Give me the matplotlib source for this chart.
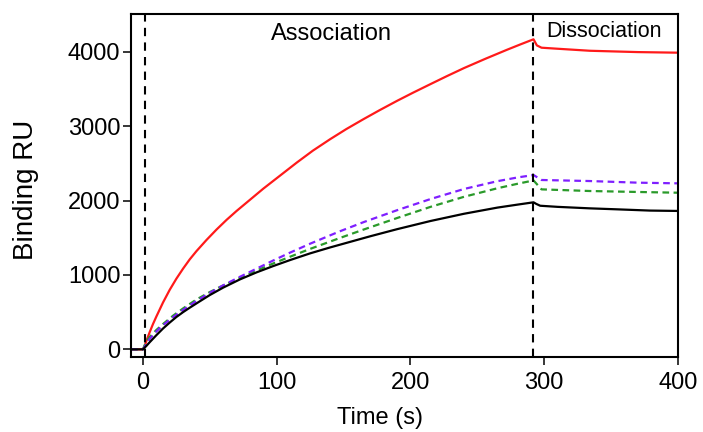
import matplotlib
matplotlib.use("Agg")
import matplotlib.pyplot as plt

plt.rcParams['font.family'] = ['Liberation Sans', 'DejaVu Sans']

# Time points (s) and responses (RU)
t_red = [-9, 0, 1, 2.5, 5, 7.5, 10, 15, 20, 25, 30, 35, 40, 47.5, 55, 62.5, 70, 80, 90,
         100, 115, 127, 140, 152, 165, 177, 190, 202, 215, 227, 240, 256, 272, 282, 292,
         294.5, 298, 310, 334, 370, 400]
y_red = [0, 0, 30, 110, 230, 340, 440, 630, 800, 950, 1085, 1210, 1320, 1470, 1610, 1740,
         1860, 2010, 2160, 2300, 2510, 2670, 2825, 2960, 3095, 3215, 3340, 3450, 3565,
         3670, 3780, 3905, 4025, 4097, 4167, 4085, 4054, 4040, 4013, 3995, 3987]

t_black = [-9, 0, 2.5, 5, 10, 15, 20, 25, 30, 35, 42, 50, 60, 72.5, 85, 97.5, 110, 125,
           140, 155, 170, 190, 215, 240, 265, 280, 292, 294, 297, 310, 334, 354, 379, 400]
y_black = [0, 0, 45, 95, 190, 280, 360, 435, 500, 560, 640, 730, 830, 940, 1035, 1120, 1200,
           1290, 1370, 1445, 1520, 1615, 1725, 1822, 1905, 1945, 1976, 1955, 1930, 1915,
           1895, 1882, 1865, 1860]

t_green = [-9, 0, 2.5, 5, 10, 15, 22.7, 30, 40, 50, 60, 72.5, 85, 97.5, 110, 125, 147, 165,
           190, 215, 240, 265, 280, 292, 298, 334, 370, 400]
y_green = [0, 0, 110, 165, 260, 340, 455, 550, 670, 770, 860, 960, 1060, 1155, 1245, 1350,
           1495, 1610, 1765, 1915, 2050, 2165, 2225, 2270, 2150, 2128, 2115, 2105]

t_purple = [-9, 0, 5, 10, 15, 22.7, 30, 40, 50, 60, 72.5, 85, 97.5, 110, 125, 147, 165,
            190, 215, 240, 265, 280, 292, 298, 334, 370, 400]
y_purple = [0, 0, 140, 240, 325, 435, 530, 650, 760, 860, 975, 1085, 1195, 1300, 1420, 1585,
            1710, 1870, 2020, 2155, 2260, 2310, 2343, 2276, 2262, 2240, 2231]

phase_lines = [1.5, 291.5]
phase_labels = ["Association", "Dissociation"]
phase_label_x = [141, 345]
phase_label_y = [4238, 4278]
phase_label_size = [17, 15.5]

x_ticks = [0, 100, 200, 300, 400]
y_ticks = [0, 1000, 2000, 3000, 4000]

fig = plt.figure(figsize=(7.03, 4.32), dpi=100)
ax = fig.add_axes([0.187, 0.1736, 0.9644 - 0.187, 0.9676 - 0.1736])

ax.plot(t_red, y_red, color='#ff1a1a', lw=1.6)
ax.plot(t_green, y_green, color='#2a9a2a', lw=1.6, ls=(0, (3, 2)))
ax.plot(t_purple, y_purple, color='#7f1fff', lw=1.6, ls=(0, (3, 2)))
ax.plot(t_black, y_black, color='black', lw=1.6)

for xv in phase_lines:
    ax.axvline(xv, color='black', lw=1.5, ls=(0, (4, 3)))

for lab, lx, ly, fs in zip(phase_labels, phase_label_x, phase_label_y, phase_label_size):
    ax.text(lx, ly, lab, ha='center', va='center', fontsize=fs)

ax.set_xlim(-8.6, 400)
ax.set_ylim(-103, 4507)
ax.set_xticks(x_ticks)
ax.set_yticks(y_ticks)
ax.tick_params(direction='out', length=6, width=1.1, labelsize=17)
ax.tick_params(axis='x', pad=4.5)
ax.tick_params(axis='y', pad=2)
for s in ax.spines.values():
    s.set_linewidth(1.5)
ax.set_xlabel("Time (s)", fontsize=17, va='center')
ax.xaxis.set_label_coords(0.455, -0.178)
ax.set_ylabel("Binding RU", fontsize=20, va='center')
ax.yaxis.set_label_coords(-0.193, 0.487)

fig.savefig("out.png", dpi=100)
